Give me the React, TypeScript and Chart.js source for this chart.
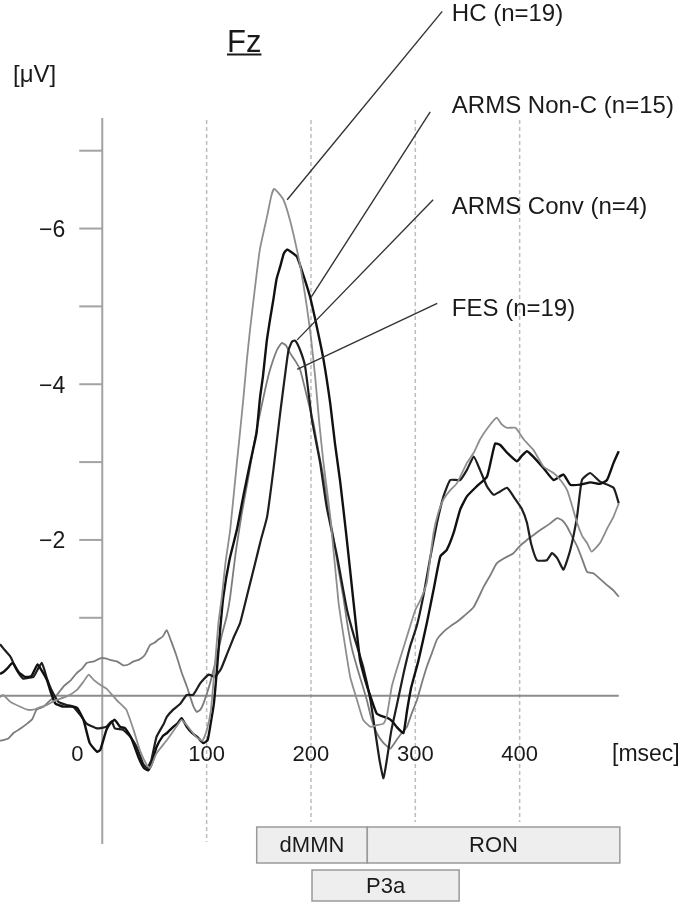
import React, { useEffect, useRef } from "react";
import { Chart, registerables } from "chart.js";

Chart.register(...registerables);

// ---- axis setup (ms / µV) ----
const X_MIN = -98;
const X_MAX = 500;
const Y_MIN = -7.42;
const Y_MAX = 1.88;

const yTickValues = [-7, -6, -5, -4, -3, -2, -1];
const yLabelValues = [-6, -4, -2];
const xTickValues = [0, 100, 200, 300, 400];
const xGridValues = [100, 200, 300, 400];
const zeroLineEnd = 495;

// ---- series: [time ms, amplitude µV] ----
const hcPoints: number[][] = [
  [-98, 0.02], [-95, -0.01], [-88, 0.08], [-79, 0.14], [-72, 0.18], [-66, 0.18], [-60, 0.15], [-53, 0.12],
  [-45, 0.06], [-34, 0.01], [-24.5, -0.07], [-18, -0.18], [-13, -0.27], [-8, -0.2], [-2, -0.14], [4, -0.09],
  [14, 0.06], [23, 0.18], [30, 0.44], [36, 0.7], [42.6, 0.89], [46, 0.93], [52, 0.74], [62, 0.57],
  [71, 0.4], [76, 0.31], [81, 0.38], [90, 0.53], [96, 0.58], [100, 0.45], [104, 0.2], [108, -0.4],
  [111.3, -0.93], [114.6, -1.27], [118, -1.7], [122.6, -2.13], [129, -2.99], [132, -3.38], [135.4, -3.84], [138.5, -4.3],
  [141.6, -4.7], [146, -5.2], [151, -5.73], [158, -6.16], [162, -6.42], [164.7, -6.51], [168, -6.47], [173.6, -6.37],
  [178, -6.2], [183, -5.94], [190, -5.5], [196, -5.0], [200, -4.6], [204, -4.1], [208, -3.5], [212, -2.99],
  [218.5, -2.3], [226.5, -1.19], [232, -0.7], [237.6, -0.24], [244, 0.05], [250, 0.31], [257, 0.4], [263, 0.38],
  [269.5, 0.36], [272.6, 0.27], [277.5, -0.12], [282, -0.33], [292, -0.76], [300, -1.1], [305, -1.23], [311, -1.45],
  [317.5, -2.09], [322, -2.35], [327, -2.52], [333.5, -2.64], [340, -2.73], [349.5, -2.99], [356, -3.12], [362, -3.29],
  [370, -3.45], [378, -3.57], [383, -3.48], [388, -3.44], [396, -3.44], [404, -3.29], [413, -3.16], [423, -2.94],
  [432.5, -2.86], [439, -2.77], [445.5, -2.64], [450, -2.45], [455, -2.22], [460, -2.05], [464.6, -1.96], [469, -1.85],
  [477, -1.96], [484, -2.15], [490, -2.3], [495, -2.47],
];

const armsNonCPoints: number[][] = [
  [-98, -0.28], [-95, -0.3], [-91, -0.35], [-86, -0.42], [-80, -0.3], [-74, -0.24], [-68, -0.25], [-62, -0.4],
  [-58, -0.32], [-53, -0.2], [-50, -0.07], [-45, 0.1], [-38, 0.14], [-30, 0.14], [-24, 0.16], [-18, 0.31],
  [-12, 0.61], [-5, 0.72], [-2, 0.7], [4, 0.44], [7.5, 0.36], [12, 0.31], [17, 0.4], [22, 0.42],
  [28, 0.55], [35, 0.8], [40, 0.93], [44, 0.96], [48, 0.85], [52, 0.66], [58, 0.52], [62, 0.48],
  [68, 0.4], [72, 0.36], [76, 0.29], [81, 0.4], [86, 0.48], [91, 0.53], [97, 0.61], [101, 0.57],
  [104, 0.35], [107, 0.1], [110, -0.35], [113, -0.85], [116, -1.27], [122, -1.75], [129, -2.13], [135, -2.55],
  [141.7, -2.99], [147.8, -3.37], [151.3, -3.84], [154, -4.1], [157.6, -4.55], [161, -4.85], [164, -5.09], [167, -5.35],
  [170.5, -5.51], [174, -5.68], [177, -5.73], [181, -5.7], [186.5, -5.64], [193, -5.39], [199, -5.13], [205.6, -4.74],
  [212, -4.32], [218.5, -3.75], [223, -3.24], [228, -2.75], [234, -2.05], [240, -1.3], [247, -0.46], [252, -0.2],
  [257, 0.01], [263, 0.23], [269.5, 0.27], [274, 0.29], [278, 0.33], [282, 0.4], [288.6, 0.48], [292, 0.2],
  [296, -0.1], [303, -0.45], [311, -0.93], [317.5, -1.36], [324, -1.79], [330, -1.87], [336.7, -2.09], [343, -2.39],
  [349.5, -2.56], [359, -2.69], [368.6, -2.81], [373, -3.05], [376.6, -3.24], [381.4, -3.22], [388, -3.12], [397.4, -3.01],
  [402, -3.08], [407, -3.14], [413, -3.07], [423, -2.92], [432.5, -2.77], [442, -2.84], [448.5, -2.71], [458, -2.71],
  [468, -2.74], [477, -2.72], [483.7, -2.77], [490, -2.99], [495, -3.14],
];

const armsConvPoints: number[][] = [
  [-98, -0.66], [-95, -0.61], [-88, -0.5], [-82, -0.33], [-76, -0.22], [-70, -0.23], [-66, -0.24], [-58, -0.42],
  [-53, -0.22], [-48.5, -0.07], [-42, 0.08], [-34, 0.12], [-28, 0.14], [-21, 0.25], [-15, 0.36], [-5, 0.42],
  [4, 0.4], [9, 0.33], [12, 0.42], [20, 0.44], [27, 0.53], [33, 0.66], [39, 0.87], [43, 0.93],
  [47, 0.83], [52, 0.53], [59, 0.36], [62, 0.27], [68, 0.18], [75, 0.1], [81, -0.01], [87, -0.01],
  [94, -0.16], [102, -0.27], [108, -0.24], [114, -0.35], [120, -0.55], [126, -0.75], [132, -0.93], [139, -1.3],
  [146.5, -1.7], [152, -2.0], [158, -2.3], [164, -2.9], [170.5, -3.63], [175, -4.1], [178.5, -4.44], [182, -4.55],
  [185, -4.56], [189.6, -4.44], [194.4, -4.23], [201, -3.54], [208.8, -2.99], [215, -2.43], [225, -1.79], [234.6, -1.1],
  [240.5, -0.8], [250, -0.37], [257, 0.06], [262, 0.5], [266, 0.85], [269.5, 1.06], [273, 0.8], [277, 0.45],
  [282, 0.14], [289, -0.3], [295, -0.63], [301.5, -0.9], [308, -1.3], [314, -1.75], [320.8, -2.22], [327, -2.56],
  [333.5, -2.77], [343, -2.77], [349.5, -2.9], [356, -3.07], [362, -2.9], [368.6, -2.69], [375, -2.58], [381, -2.62],
  [388, -2.67], [396, -2.52], [402, -2.4], [407, -2.22], [411, -1.95], [416.6, -1.74], [426, -1.74], [431, -1.83],
  [435.8, -1.77], [442, -1.62], [448.5, -1.87], [455, -2.3], [459.7, -2.77], [467.6, -2.86], [477, -2.75], [490, -2.67],
  [495, -2.47],
];

const fesPoints: number[][] = [
  [-98, 0.58], [-95, 0.57], [-90, 0.55], [-85, 0.48], [-78, 0.42], [-72, 0.36], [-67, 0.3], [-63, 0.18],
  [-56, 0.14], [-50, 0.06], [-44, 0.0], [-37, -0.12], [-30, -0.2], [-24.5, -0.29], [-19, -0.35], [-15, -0.42],
  [-8, -0.44], [-2, -0.48], [3, -0.48], [7.5, -0.46], [14, -0.44], [20, -0.39], [25, -0.4], [30, -0.44],
  [35, -0.46], [39.4, -0.5], [42, -0.55], [45.8, -0.65], [50, -0.68], [53.8, -0.72], [58, -0.76], [61.8, -0.84],
  [66, -0.7], [71.4, -0.5], [76, -0.3], [81, -0.12], [87.4, 0.14], [90.6, 0.21], [94, 0.18], [97, 0.1],
  [103.3, -0.16], [109.7, -0.5], [115, -0.8], [119.3, -1.02], [122.6, -1.27], [128, -1.85], [133.7, -2.34], [140, -2.8],
  [145, -3.2], [150, -3.55], [154.6, -3.84], [160, -4.15], [167.4, -4.44], [172, -4.53], [176, -4.5], [180, -4.4],
  [185, -4.3], [189.6, -4.19], [196, -3.85], [202.4, -3.5], [207, -3.15], [212, -2.81], [216, -2.45], [221.5, -2.04],
  [226, -1.65], [231, -1.27], [234.5, -0.95], [239, -0.62], [244, -0.37], [249, -0.15], [253.6, 0.06], [258, 0.3],
  [263, 0.48], [269, 0.6], [276, 0.68], [282, 0.57], [287, 0.48], [292, 0.4], [296, 0.25], [301.5, 0.06],
  [306, -0.15], [311, -0.37], [316, -0.55], [320.7, -0.72], [327, -0.82], [333.5, -0.89], [340, -0.95], [346.4, -1.02],
  [356, -1.14], [365.6, -1.4], [372, -1.55], [378, -1.7], [386, -1.77], [394, -1.83], [400, -1.92], [407, -2.0],
  [414, -2.07], [420, -2.13], [428, -2.2], [436, -2.28], [441, -2.25], [445.5, -2.17], [450, -2.05], [455, -1.92],
  [460, -1.75], [464.6, -1.59], [471, -1.57], [477, -1.5], [483.7, -1.42], [490, -1.35], [495, -1.27],
];

// ---- legend labels with leader lines (data coords: start on curve, end near label) ----
const seriesNames = ["HC (n=19)", "ARMS Non-C (n=15)", "ARMS Conv (n=4)", "FES (n=19)"];
const leaderStart: number[][] = [[177.2, -6.37], [200.2, -5.12], [186.8, -4.57], [186.8, -4.19]];
const leaderEnd: number[][] = [[325.8, -8.79], [314.3, -7.5], [317.1, -6.37], [321, -5.04]];
const labelTime = 335;
const labelValue = [-8.75, -7.57, -6.27, -4.96];

// ---- ERP component windows (ms) ----
const componentNames = ["dMMN", "RON", "P3a"];
const componentStart = [148, 254, 201];
const componentEnd = [254, 496, 342];
const componentRow = [0, 0, 1];

const FONT = '"Liberation Sans", Arial, Helvetica, sans-serif';

const decorPlugin = {
  id: "decor",
  beforeDatasetsDraw(chart: any) {
    const { ctx, chartArea } = chart;
    const xs = chart.scales.x;
    const ys = chart.scales.y;
    const x0 = xs.getPixelForValue(0);
    const yZero = ys.getPixelForValue(0);
    const boxTop = chartArea.bottom - 15;
    ctx.save();
    // dashed verticals
    ctx.strokeStyle = "#bdbdbd";
    ctx.lineWidth = 1.5;
    ctx.setLineDash([4, 3]);
    xGridValues.forEach((t) => {
      const px = xs.getPixelForValue(t);
      const covered = componentStart.some((s, i) => t >= s && t <= componentEnd[i]);
      ctx.beginPath();
      ctx.moveTo(px, chartArea.top + 2);
      ctx.lineTo(px, covered ? boxTop - 5 : chartArea.bottom);
      ctx.stroke();
    });
    ctx.setLineDash([]);
    // y axis line
    ctx.strokeStyle = "#a3a3a3";
    ctx.lineWidth = 2;
    ctx.beginPath();
    ctx.moveTo(x0, chartArea.top);
    ctx.lineTo(x0, chartArea.bottom + 2);
    ctx.stroke();
    // y ticks
    yTickValues.forEach((v) => {
      const py = ys.getPixelForValue(v);
      ctx.beginPath();
      ctx.moveTo(x0 - 23, py);
      ctx.lineTo(x0, py);
      ctx.stroke();
    });
    // zero line
    ctx.strokeStyle = "#8c8c8c";
    ctx.lineWidth = 2;
    ctx.beginPath();
    ctx.moveTo(xs.getPixelForValue(X_MIN), yZero);
    ctx.lineTo(xs.getPixelForValue(zeroLineEnd), yZero);
    ctx.stroke();
    ctx.restore();
  },
  afterDatasetsDraw(chart: any) {
    const { ctx, chartArea } = chart;
    const xs = chart.scales.x;
    const ys = chart.scales.y;
    const x0 = xs.getPixelForValue(0);
    ctx.save();
    ctx.fillStyle = "#1a1a1a";
    // y labels
    ctx.font = `23px ${FONT}`;
    ctx.textAlign = "right";
    ctx.textBaseline = "middle";
    yLabelValues.forEach((v) => {
      ctx.fillText("\u2212" + Math.abs(v), x0 - 37, ys.getPixelForValue(v) + 2);
    });
    // x labels
    ctx.font = `22px ${FONT}`;
    ctx.textAlign = "center";
    ctx.textBaseline = "alphabetic";
    const xLabelY = ys.getPixelForValue(0) + 65;
    xTickValues.forEach((t) => {
      const px = xs.getPixelForValue(t) - (t === 0 ? 25 : 0);
      ctx.fillText(String(t), px, xLabelY);
    });
    ctx.font = `23px ${FONT}`;
    ctx.textAlign = "left";
    ctx.fillText("[msec]", chartArea.right - 12, xLabelY);
    // unit
    ctx.font = `24px ${FONT}`;
    ctx.fillText("[\u03bcV]", 13, 81.5);
    // title
    ctx.font = `31px ${FONT}`;
    ctx.fillText("Fz", 227, 51.5);
    const fzW = ctx.measureText("Fz").width;
    ctx.strokeStyle = "#1a1a1a";
    ctx.lineWidth = 2;
    ctx.beginPath();
    ctx.moveTo(227, 54.5);
    ctx.lineTo(227 + fzW, 54.5);
    ctx.stroke();
    // leader lines + labels
    ctx.strokeStyle = "#333333";
    ctx.lineWidth = 1.4;
    seriesNames.forEach((name, i) => {
      ctx.beginPath();
      ctx.moveTo(xs.getPixelForValue(leaderStart[i][0]), ys.getPixelForValue(leaderStart[i][1]));
      ctx.lineTo(xs.getPixelForValue(leaderEnd[i][0]), ys.getPixelForValue(leaderEnd[i][1]));
      ctx.stroke();
    });
    ctx.font = `24px ${FONT}`;
    ctx.textAlign = "left";
    ctx.textBaseline = "middle";
    seriesNames.forEach((name, i) => {
      ctx.fillText(name, xs.getPixelForValue(labelTime), ys.getPixelForValue(labelValue[i]));
    });
    // component boxes
    const boxTop = chartArea.bottom - 15;
    const rowTop = [boxTop, boxTop + 43];
    const rowH = [36, 31];
    ctx.font = `22px ${FONT}`;
    ctx.textAlign = "center";
    componentNames.forEach((name, i) => {
      const l = xs.getPixelForValue(componentStart[i]);
      const r = xs.getPixelForValue(componentEnd[i]);
      const top = rowTop[componentRow[i]];
      const h = rowH[componentRow[i]];
      ctx.fillStyle = "#eeeeee";
      ctx.fillRect(l, top, r - l, h);
      ctx.strokeStyle = "#9a9a9a";
      ctx.lineWidth = 1.5;
      ctx.strokeRect(l, top, r - l, h);
      ctx.fillStyle = "#1a1a1a";
      ctx.fillText(name, (l + r) / 2, top + h / 2 + 1);
    });
    ctx.restore();
  },
};

const seriesPoints = [hcPoints, armsNonCPoints, armsConvPoints, fesPoints];
const seriesColors = ["#8e8e8e", "#111111", "#1e1e1e", "#7c7c7c"];
const seriesWidths = [1.8, 2.4, 2.2, 1.8];

export default function App() {
  const ref = useRef<HTMLCanvasElement>(null);
  useEffect(() => {
    document.body.style.margin = "0";
    const canvas = ref.current;
    if (!canvas) return;
    const chart = new Chart(canvas, {
      type: "line",
      data: {
        datasets: seriesNames.map((name, i) => ({
          label: name,
          data: seriesPoints[i].map(([x, y]) => ({ x, y })),
          borderColor: seriesColors[i],
          borderWidth: seriesWidths[i],
          pointRadius: 0,
          tension: 0.15,
          fill: false,
        })),
      },
      options: {
        responsive: false,
        animation: false,
        devicePixelRatio: 1,
        events: [],
        layout: { autoPadding: false, padding: { left: 0, top: 118, right: 61, bottom: 61 } },
        plugins: { legend: { display: false }, tooltip: { enabled: false } },
        scales: {
          x: { type: "linear", min: X_MIN, max: X_MAX, display: false },
          y: { type: "linear", min: Y_MIN, max: Y_MAX, reverse: true, display: false },
        },
      } as any,
      plugins: [decorPlugin],
    });
    return () => chart.destroy();
  }, []);
  return (
    <div style={{ width: 685, height: 903, background: "#fff" }}>
      <canvas ref={ref} width={685} height={903} style={{ display: "block" }} />
    </div>
  );
}
